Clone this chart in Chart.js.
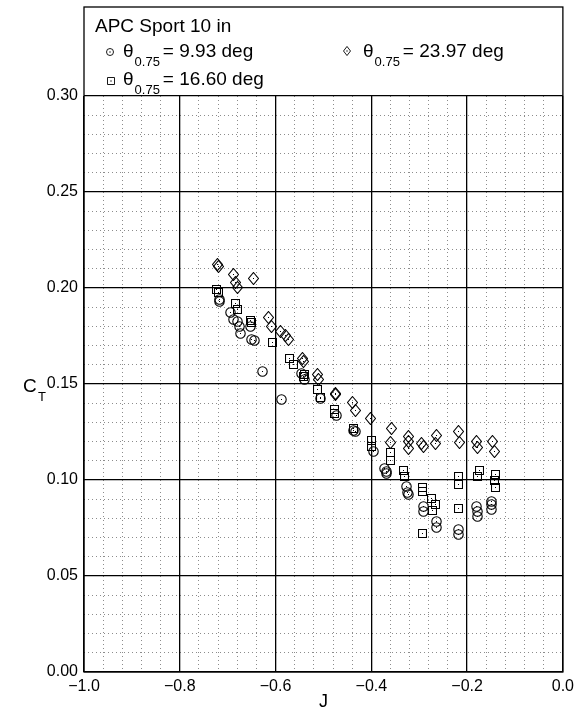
<!DOCTYPE html>
<html>
<head>
<meta charset="utf-8">
<title>APC Sport 10 in - CT vs J</title>
<script src="https://cdn.jsdelivr.net/npm/chart.js@4.4.0/dist/chart.umd.min.js"></script>
<style>
    html, body { margin: 0; padding: 0; background: #fff; }
    #wrap { width: 579px; height: 719px; }
</style>
</head>
<body>
<div id="wrap"><canvas id="ctChart" width="579" height="719"></canvas></div>
<script>
// Datos: coeficiente de tracción C_T frente a J para tres pasos
const pitchLabels = ['9.93', '16.60', '23.97'];

const jLow = [-0.718, -0.717, -0.695, -0.687, -0.680, -0.676, -0.674, -0.653, -0.650, -0.645,
              -0.627, -0.587, -0.545, -0.539, -0.507, -0.473, -0.438, -0.434, -0.395, -0.372,
              -0.369, -0.368, -0.326, -0.325, -0.323, -0.292, -0.291, -0.264, -0.264, -0.219,
              -0.219, -0.180, -0.179, -0.179, -0.150, -0.149, -0.150];
const ctLow = [0.1940, 0.1928, 0.1873, 0.1837, 0.1828, 0.1802, 0.1764, 0.1798, 0.1733, 0.1729,
               0.1564, 0.1417, 0.1555, 0.1521, 0.1425, 0.1335, 0.1260, 0.1252, 0.1147, 0.1061,
               0.1043, 0.1035, 0.0965, 0.0934, 0.0922, 0.0861, 0.0835, 0.0783, 0.0754, 0.0740,
               0.0714, 0.0861, 0.0835, 0.0809, 0.0887, 0.0870, 0.0847];

const jMid = [-0.724, -0.720, -0.683, -0.680, -0.653, -0.650, -0.606, -0.570, -0.563, -0.542,
              -0.539, -0.513, -0.507, -0.476, -0.476, -0.437, -0.399, -0.399, -0.361, -0.361,
              -0.332, -0.330, -0.293, -0.293, -0.274, -0.267, -0.273, -0.293, -0.219, -0.219,
              -0.219, -0.175, -0.178, -0.141, -0.143, -0.141];
const ctMid = [0.1993, 0.1976, 0.1920, 0.1890, 0.1833, 0.1820, 0.1715, 0.1634, 0.1600, 0.1538,
               0.1547, 0.1471, 0.1432, 0.1365, 0.1347, 0.1268, 0.1205, 0.1177, 0.1142, 0.1100,
               0.1052, 0.1020, 0.0962, 0.0939, 0.0905, 0.0870, 0.0840, 0.0719, 0.1020, 0.0979,
               0.0850, 0.1052, 0.1020, 0.1030, 0.1000, 0.0962];

const jHigh = [-0.721, -0.720, -0.687, -0.683, -0.680, -0.647, -0.615, -0.608, -0.589, -0.580,
               -0.573, -0.544, -0.542, -0.513, -0.511, -0.475, -0.474, -0.440, -0.434, -0.401,
               -0.358, -0.360, -0.323, -0.323, -0.323, -0.295, -0.292, -0.264, -0.265, -0.218,
               -0.216, -0.180, -0.178, -0.146, -0.142];
const ctHigh = [0.2120, 0.2110, 0.2068, 0.2028, 0.2004, 0.2047, 0.1845, 0.1802, 0.1776, 0.1755,
                0.1734, 0.1634, 0.1616, 0.1547, 0.1526, 0.1452, 0.1443, 0.1405, 0.1360, 0.1318,
                0.1269, 0.1194, 0.1225, 0.1199, 0.1165, 0.1191, 0.1173, 0.1234, 0.1188, 0.1253,
                0.1195, 0.1200, 0.1170, 0.1200, 0.1151];

// Ejes
const jTicks = [-1.0, -0.8, -0.6, -0.4, -0.2, 0.0];
const ctTicks = [0.00, 0.05, 0.10, 0.15, 0.20, 0.25, 0.30];

const FONT = "'Liberation Sans', Arial, Helvetica, sans-serif";

function toPoints(xs, ys) {
    return xs.map((x, i) => ({ x: x, y: ys[i] }));
}

// Marcadores con punto central, dibujados en un canvas pequeño (tamaños impares)
function makeMarker(kind, w, h) {
    const c = document.createElement('canvas');
    c.width = w;
    c.height = h;
    const g = c.getContext('2d');
    const cx = w / 2, cy = h / 2;
    g.strokeStyle = '#000';
    g.lineWidth = 1.1;
    g.beginPath();
    if (kind === 'circle') {
        g.arc(cx, cy, w / 2 - 0.8, 0, Math.PI * 2);
    } else if (kind === 'square') {
        g.rect(0.5, 0.5, w - 1, h - 1);
    } else {
        g.moveTo(cx, 0.5);
        g.lineTo(w - 0.5, cy);
        g.lineTo(cx, h - 0.5);
        g.lineTo(0.5, cy);
        g.closePath();
    }
    g.stroke();
    g.fillStyle = '#000';
    g.fillRect(Math.floor(cx), Math.floor(cy), 1, 1);
    return c;
}

function drawSymbol(ctx, kind, x, y, s) {
    ctx.save();
    ctx.strokeStyle = '#000';
    ctx.lineWidth = 0.9;
    ctx.beginPath();
    if (kind === 'circle') {
        ctx.arc(x, y, s / 2, 0, Math.PI * 2);
    } else if (kind === 'square') {
        ctx.rect(x - s / 2, y - s / 2, s, s);
    } else {
        ctx.moveTo(x, y - s * 0.65);
        ctx.lineTo(x + s / 2, y);
        ctx.lineTo(x, y + s * 0.65);
        ctx.lineTo(x - s / 2, y);
        ctx.closePath();
    }
    ctx.stroke();
    ctx.fillStyle = '#000';
    ctx.fillRect(x - 0.6, y - 0.6, 1.2, 1.2);
    ctx.restore();
}

// θ con subíndice 0.75 seguido del valor
function drawTheta(ctx, x, base, value) {
    ctx.font = '19px ' + FONT;
    ctx.fillText('\u03B8', x, base);
    x += ctx.measureText('\u03B8').width + 1;
    ctx.font = '13px ' + FONT;
    ctx.fillText('0.75', x, base + 9);
    x += ctx.measureText('0.75').width + 3;
    ctx.font = '19px ' + FONT;
    ctx.fillText('= ' + value + ' deg', x, base);
}

// Sin suavizado al copiar los marcadores: quedan nítidos sobre píxeles enteros
const crispMarkers = {
    id: 'crispMarkers',
    beforeDatasetsDraw(chart) {
        chart.ctx.save();
        chart.ctx.imageSmoothingEnabled = false;
    },
    afterDatasetsDraw(chart) {
        chart.ctx.restore();
    }
};

const frameAndKey = {
    id: 'frameAndKey',
    afterDraw(chart) {
        const ctx = chart.ctx;
        const a = chart.chartArea;
        ctx.save();
        // marco exterior, incluida la zona de la leyenda
        ctx.strokeStyle = '#000';
        ctx.lineWidth = 1.3;
        ctx.strokeRect(a.left, 7, a.right - a.left, a.bottom - 7);

        ctx.fillStyle = '#000';
        ctx.textBaseline = 'alphabetic';
        ctx.textAlign = 'left';
        ctx.font = '19px ' + FONT;
        ctx.fillText('APC Sport 10 in', a.left + 11, 32);

        drawSymbol(ctx, 'circle', a.left + 26, 52, 7);
        drawTheta(ctx, a.left + 39, 57, pitchLabels[0]);
        drawSymbol(ctx, 'square', a.left + 27, 81, 7);
        drawTheta(ctx, a.left + 39, 85, pitchLabels[1]);
        drawSymbol(ctx, 'diamond', a.left + 263, 51, 7);
        drawTheta(ctx, a.left + 279, 57, pitchLabels[2]);

        // títulos de los ejes
        ctx.font = '18px ' + FONT;
        ctx.textAlign = 'center';
        ctx.fillText('J', (a.left + a.right) / 2, 707);
        ctx.textAlign = 'left';
        ctx.font = '19px ' + FONT;
        ctx.fillText('C', 23, 392);
        ctx.font = '13px ' + FONT;
        ctx.fillText('T', 38, 401);
        ctx.restore();
    }
};

function isMajor(v, step) {
    const r = v / step;
    return Math.abs(r - Math.round(r)) < 1e-6;
}

document.addEventListener('DOMContentLoaded', function() {
    const ctx = document.getElementById('ctChart').getContext('2d');

    const ctChart = new Chart(ctx, {
        type: 'scatter',
        data: {
            datasets: [
                {
                    label: pitchLabels[0],
                    data: toPoints(jLow, ctLow),
                    pointStyle: makeMarker('circle', 11, 11),
                    pointRadius: 5
                },
                {
                    label: pitchLabels[1],
                    data: toPoints(jMid, ctMid),
                    pointStyle: makeMarker('square', 9, 9),
                    pointRadius: 5
                },
                {
                    label: pitchLabels[2],
                    data: toPoints(jHigh, ctHigh),
                    pointStyle: makeMarker('diamond', 11, 13),
                    pointRadius: 5
                }
            ]
        },
        options: {
            responsive: false,
            animation: false,
            devicePixelRatio: 1,
            layout: { padding: { left: 0, top: 96, right: 16, bottom: 0 } },
            plugins: {
                legend: { display: false },
                tooltip: { enabled: false }
            },
            scales: {
                xMinor: {
                    type: 'linear',
                    position: 'bottom',
                    min: jTicks[0],
                    max: jTicks[jTicks.length - 1],
                    ticks: { display: false, stepSize: 0.04, maxTicksLimit: 100 },
                    grid: {
                        drawTicks: false,
                        lineWidth: 1,
                        color: c => isMajor(c.tick.value, 0.2) ? 'rgba(0,0,0,0)' : '#8c8c8c'
                    },
                    border: { display: false, dash: [1, 3] },
                    afterFit: s => { s.height = 0; }
                },
                yMinor: {
                    type: 'linear',
                    position: 'left',
                    min: ctTicks[0],
                    max: ctTicks[ctTicks.length - 1],
                    ticks: { display: false, stepSize: 0.01, maxTicksLimit: 100 },
                    grid: {
                        drawTicks: false,
                        lineWidth: 1,
                        color: c => isMajor(c.tick.value, 0.05) ? 'rgba(0,0,0,0)' : '#8c8c8c'
                    },
                    border: { display: false, dash: [1, 3] },
                    afterFit: s => { s.width = 0; }
                },
                x: {
                    type: 'linear',
                    position: 'bottom',
                    min: jTicks[0],
                    max: jTicks[jTicks.length - 1],
                    afterBuildTicks: s => { s.ticks = jTicks.map(v => ({ value: v })); },
                    ticks: {
                        color: '#000',
                        font: { family: FONT, size: 16 },
                        padding: 5,
                        maxRotation: 0,
                        callback: v => Math.abs(v) < 1e-9 ? '0.0' : v.toFixed(1).replace('-', '\u2212')
                    },
                    grid: { drawTicks: false, color: '#000', lineWidth: 1.3 },
                    border: { display: false },
                    afterFit: s => { s.height = 47; }
                },
                y: {
                    type: 'linear',
                    position: 'left',
                    min: ctTicks[0],
                    max: ctTicks[ctTicks.length - 1],
                    afterBuildTicks: s => { s.ticks = ctTicks.map(v => ({ value: v })); },
                    ticks: {
                        color: '#000',
                        font: { family: FONT, size: 16 },
                        padding: 6,
                        callback: v => v.toFixed(2)
                    },
                    grid: { drawTicks: false, color: '#000', lineWidth: 1.3 },
                    border: { display: false },
                    afterFit: s => { s.width = 84; }
                }
            }
        },
        plugins: [crispMarkers, frameAndKey]
    });
});
</script>
</body>
</html>
